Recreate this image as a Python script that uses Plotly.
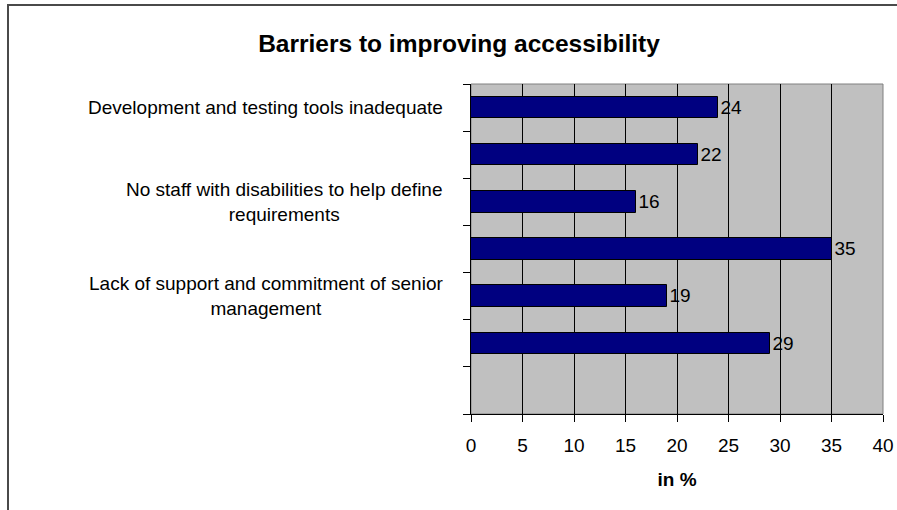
import plotly.graph_objects as go

# ---- data ----
category_labels = [
    "Development and testing tools inadequate",
    "",
    "No staff with disabilities to help define<br>requirements",
    "",
    "Lack of support and commitment of senior<br>management",
    "",
    "",
]
values = [24, 22, 16, 35, 19, 29, None]
x_ticks = [0, 5, 10, 15, 20, 25, 30, 35, 40]
title_text = "Barriers to improving accessibility"
x_title = "in %"

positions = list(range(len(values)))
boundaries = [p - 0.5 for p in positions] + [positions[-1] + 0.5]

FONT = "Liberation Sans, Arial, sans-serif"

# plot-area geometry in pixels
W, H = 897, 510
L, R, T, B = 471, 14, 84, 96
pw, ph = W - L - R, H - T - B

fig = go.Figure()
fig.add_trace(go.Bar(
    x=values,
    y=positions,
    orientation="h",
    width=0.4545,
    marker=dict(color="#000080", line=dict(color="black", width=1)),
    text=[("" if v is None else str(v)) for v in values],
    textposition="outside",
    textfont=dict(family=FONT, size=19, color="black"),
    constraintext="none",
    cliponaxis=False,
    hoverinfo="x+y",
))

annotations = []
for p, lab in zip(positions, category_labels):
    if lab:
        annotations.append(dict(
            x=0, xref="paper", y=p, yref="y",
            text=lab, showarrow=False,
            xanchor="right", yanchor="middle", align="center",
            xshift=-26,
            font=dict(family=FONT, size=19, color="black"),
        ))

shapes = [
    # plot-area border (gray)
    dict(type="rect", xref="paper", yref="paper", x0=0, x1=1, y0=0, y1=1,
         line=dict(color="#808080", width=1), layer="below"),
    # chart-area outer border
    dict(type="rect", xref="paper", yref="paper",
         x0=(8 - L) / pw, x1=(W + 20 - L) / pw,
         y0=-(B + 20) / ph, y1=(H - B - 5) / ph,
         line=dict(color="#4a4a4a", width=2), layer="below"),
]

fig.update_layout(
    width=W, height=H,
    margin=dict(l=L, r=R, t=T, b=B, pad=0, autoexpand=False),
    paper_bgcolor="white",
    plot_bgcolor="#C0C0C0",
    showlegend=False,
    font=dict(family=FONT, size=19, color="black"),
    title=dict(
        text="<b>" + title_text + "</b>",
        x=459 / W, xref="container", xanchor="center",
        y=1 - 43 / H, yanchor="middle",
        font=dict(family=FONT, size=24.5, color="black"),
    ),
    annotations=annotations,
    shapes=shapes,
    bargap=0,
)
fig.update_xaxes(
    range=[0, 40],
    tickvals=x_ticks,
    automargin=False,
    ticks="outside", ticklen=7, tickwidth=1, tickcolor="black",
    ticklabelstandoff=7,
    showgrid=True, gridcolor="black", gridwidth=1,
    showline=True, linecolor="black", linewidth=1,
    zeroline=False,
    tickfont=dict(family=FONT, size=19, color="black"),
    title=dict(text="<b>" + x_title + "</b>", standoff=17,
               font=dict(family=FONT, size=19, color="black")),
    fixedrange=True,
)
fig.update_yaxes(
    range=[positions[-1] + 0.5, -0.5],
    tickvals=boundaries,
    automargin=False,
    showticklabels=False,
    ticks="outside", ticklen=7, tickwidth=1, tickcolor="black",
    showgrid=False, zeroline=False,
    showline=True, linecolor="black", linewidth=1,
    fixedrange=True,
)

fig.write_html(
    "out.html",
    config={"displayModeBar": False},
    post_script="document.body.style.margin='0';document.body.style.overflow='hidden';",
)
